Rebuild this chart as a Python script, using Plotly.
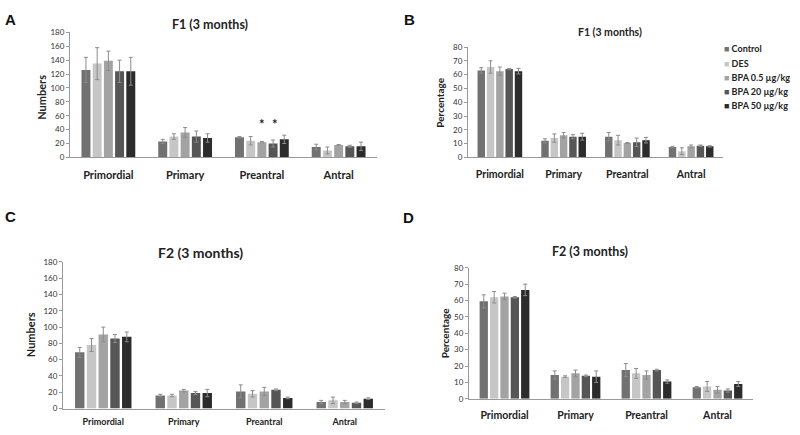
import plotly.graph_objects as go

categories = ["Primordial", "Primary", "Preantral", "Antral"]
series_names = ["Control", "DES", "BPA 0.5 µg/kg", "BPA 20 µg/kg", "BPA 50 µg/kg"]
series_colors = ["#717171", "#c6c6c6", "#a3a3a3", "#565656", "#2c2c2c"]

# Panel A: F1 numbers (per series, values over categories)
a_vals = [[126, 23, 29, 15], [135, 30, 24, 10], [139, 36, 22, 18], [124, 30, 20, 16], [124, 28, 26, 16]]
a_errs = [[18, 3, 1, 4], [23, 4, 6, 5], [14, 7, 1, 0.5], [16, 8, 5, 1.5], [20, 6, 6, 6]]
# Panel B: F1 percentage
b_vals = [[63, 12, 15, 7.5], [65.5, 14, 12.5, 4.5], [62.5, 16, 10.5, 8], [64, 15, 11, 8.5], [62.5, 15, 12.5, 8]]
b_errs = [[2, 1.5, 3, 0.5], [4.5, 3, 3.5, 2.5], [3, 2, 0.3, 1], [0.5, 1.5, 3, 0.5], [2, 2.5, 2, 0.5]]
# Panel C: F2 numbers
c_vals = [[69, 16, 21, 8], [78, 16, 18, 10], [91, 22, 21, 8], [86, 19, 23, 7], [88, 19, 13, 12]]
c_errs = [[6, 1.5, 8, 2], [8, 1.5, 4, 4], [9, 1.5, 5, 2], [5, 2, 1, 1], [6, 4.5, 1, 1]]
# Panel D: F2 percentage
d_vals = [[59.5, 14.5, 17.5, 7], [62, 13.5, 15.5, 7.5], [62.5, 15.5, 14.5, 5.5], [62, 14, 17.5, 5], [66.5, 13.5, 10.5, 9]]
d_errs = [[4, 2.5, 4, 0.5], [3.5, 0.5, 3, 3], [2, 2, 2.5, 2], [0.5, 0.5, 0.5, 1], [3.5, 3.5, 1, 1.5]]

panel_titles = ["F1 (3 months)", "F1 (3 months)", "F2 (3 months)", "F2 (3 months)"]
panel_letters = ["A", "B", "C", "D"]
y_titles = ["Numbers", "Percentage", "Numbers", "Percentage"]
y_ranges = [180, 80, 180, 80]
y_steps = [20, 10, 20, 10]

W, H = 800, 435
FONT = "Lato, 'Open Sans', sans-serif"

def px(x):
    return x / W

def py(y):
    return 1 - y / H

# plot-area geometry in pixels: (left, right, bottom(0), top(max))
geo = [(70, 377, 156, 28), (468, 723, 156, 43), (63, 385, 413, 263), (469, 753, 403, 269)]
cat_font = [11, 10.5, 9, 10.5]
cat_stand = [7, 7, 5, 7]
title_pos = [(210, 20, 12.5), (610, 28, 10.5), (200, 253, 14), (590, 252, 12.5)]
ytitle_pos = [(42, 95, 11), (440, 100, 10), (30, 338, 11), (445, 336, 10)]
letter_pos = [(10, 15), (409, 15), (10, 216), (408, 218)]

all_vals = [a_vals, b_vals, c_vals, d_vals]
all_errs = [a_errs, b_errs, c_errs, d_errs]

fig = go.Figure()
layout = {}
annotations = []

for p in range(4):
    xa = "x" if p == 0 else f"x{p+1}"
    ya = "y" if p == 0 else f"y{p+1}"
    for s in range(5):
        fig.add_trace(go.Bar(
            x=categories, y=all_vals[p][s], name=series_names[s],
            marker=dict(color=series_colors[s], line=dict(width=0)),
            error_y=dict(type="data", array=all_errs[p][s], color="#8c8c8c", thickness=1, width=2),
            xaxis=xa, yaxis=ya, showlegend=False,
        ))
    l, r, b, t = geo[p]
    xk = "xaxis" if p == 0 else f"xaxis{p+1}"
    yk = "yaxis" if p == 0 else f"yaxis{p+1}"
    layout[xk] = dict(
        domain=[px(l), px(r)], anchor=ya, showgrid=False, zeroline=False,
        showline=True, linecolor="#9a9a9a", linewidth=1, ticks="",
        tickfont=dict(family=FONT, size=cat_font[p], color="#222", weight="bold"),
        ticklabelstandoff=cat_stand[p], fixedrange=True,
    )
    layout[yk] = dict(
        domain=[py(b), py(t)], anchor=xa, range=[0, y_ranges[p]], dtick=y_steps[p],
        showgrid=False, zeroline=False, showline=True, linecolor="#9a9a9a", linewidth=1,
        ticks="outside", ticklen=3, tickcolor="#9a9a9a",
        tickfont=dict(family=FONT, size=8, color="#333"), fixedrange=True,
    )
    tx, ty, ts = title_pos[p]
    annotations.append(dict(x=px(tx), y=py(ty), xref="paper", yref="paper", text=panel_titles[p],
                            showarrow=False, xanchor="center", yanchor="middle",
                            font=dict(family=FONT, size=ts, color="#222", weight="bold")))
    yx, yy, ys = ytitle_pos[p]
    annotations.append(dict(x=px(yx), y=py(yy), xref="paper", yref="paper", text=y_titles[p],
                            showarrow=False, textangle=-90, xanchor="center", yanchor="middle",
                            font=dict(family=FONT, size=ys, color="#222", weight="bold")))
    lx, ly = letter_pos[p]
    annotations.append(dict(x=px(lx), y=py(ly), xref="paper", yref="paper", text=panel_letters[p],
                            showarrow=False, xanchor="center", yanchor="middle",
                            font=dict(family="'Liberation Sans', Arial, sans-serif", size=15, color="#111", weight="bold")))

# significance asterisks (panel A, Preantral, BPA 0.5 and BPA 20)
for s, shift in [(2, 0), (3, 13)]:
    annotations.append(dict(x="Preantral", y=33, xref="x", yref="y", text="*", xshift=shift,
                            showarrow=False, yanchor="bottom",
                            font=dict(family=FONT, size=13, color="#222", weight="bold")))

# legend (panel B)
for s in range(5):
    annotations.append(dict(
        x=px(722), y=py(45 + 14.5 * s), xref="paper", yref="paper",
        text=f"<span style='color:{series_colors[s]}'>■</span> {series_names[s]}",
        showarrow=False, xanchor="left", yanchor="middle",
        font=dict(family=FONT, size=9, color="#222", weight="bold")))

fig.update_layout(
    width=W, height=H, margin=dict(l=0, r=0, t=0, b=0),
    paper_bgcolor="white", plot_bgcolor="white",
    barmode="group", bargap=0.27, bargroupgap=0.2,
    annotations=annotations, showlegend=False, **layout,
)

fig.write_html("out.html", config={"displayModeBar": False},
               post_script="document.body.style.margin='0';document.body.style.overflow='hidden';")
